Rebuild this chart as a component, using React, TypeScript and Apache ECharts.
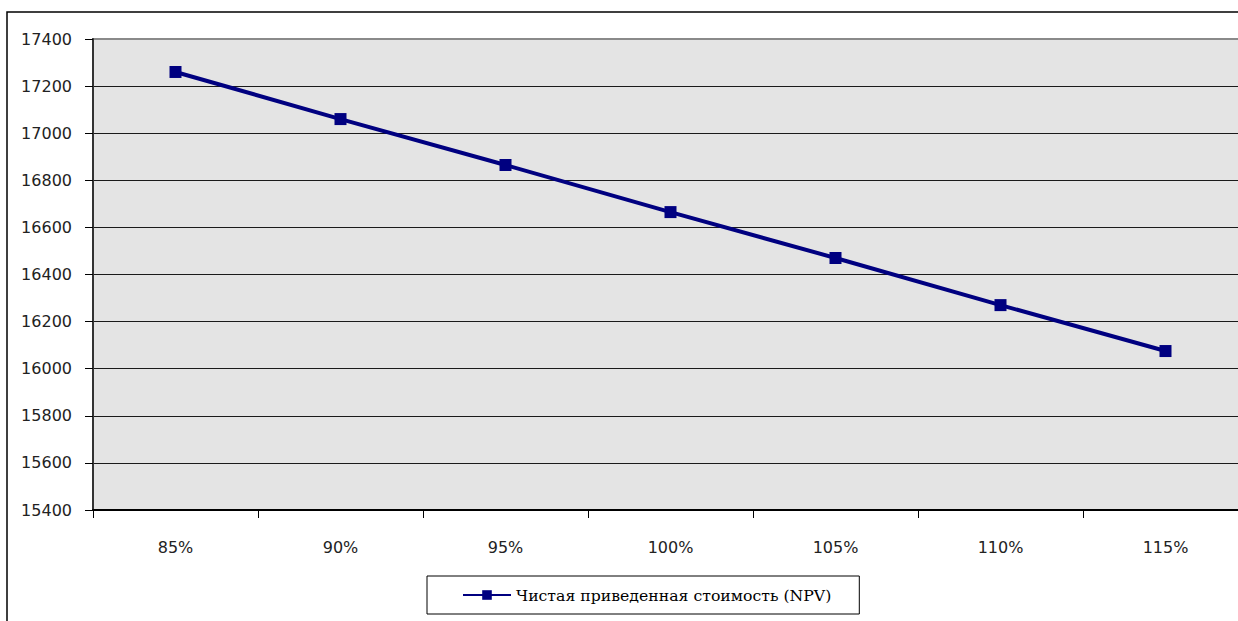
import React, { useEffect, useRef } from "react";
import * as echarts from "echarts";

const categories = ["85%", "90%", "95%", "100%", "105%", "110%", "115%"];
const npvValues = [17260, 17060, 16865, 16665, 16470, 16270, 16075];
const seriesName = "Чистая приведенная стоимость (NPV)";
const yMin = 15400;
const yMax = 17400;
const yStep = 200;

export default function App() {
  const ref = useRef<HTMLDivElement>(null);

  useEffect(() => {
    document.body.style.margin = "0";
    document.body.style.overflow = "hidden";
    const chart = echarts.init(ref.current!, undefined, { renderer: "svg" });
    chart.setOption({
      animation: false,
      backgroundColor: "#ffffff",
      grid: {
        left: 93,
        top: 39,
        width: 1155,
        height: 471,
        show: true,
        backgroundColor: "#e4e4e4",
        borderColor: "#8a8a8a",
        borderWidth: 2,
      },
      graphic: [
        {
          type: "rect",
          shape: { x: 7, y: 12, width: 1300, height: 700 },
          style: { fill: "none", stroke: "#000", lineWidth: 1.5 },
          z: -1,
        },
      ],
      xAxis: {
        type: "category",
        data: categories,
        boundaryGap: true,
        axisLine: { lineStyle: { color: "#000", width: 2 } },
        axisTick: { show: true, length: 8, lineStyle: { color: "#000", width: 1 } },
        axisLabel: {
          margin: 29,
          color: "#222",
          fontFamily: "DejaVu Sans",
          fontSize: 16,
        },
        splitLine: { show: false },
      },
      yAxis: {
        type: "value",
        min: yMin,
        max: yMax,
        interval: yStep,
        axisLine: { show: true, lineStyle: { color: "#333", width: 2 } },
        axisTick: { show: true, length: 8, lineStyle: { color: "#000", width: 1 } },
        axisLabel: {
          margin: 21,
          color: "#222",
          fontFamily: "DejaVu Sans",
          fontSize: 16,
          formatter: (v: number) => String(v),
        },
        splitLine: {
          show: true,
          showMaxLine: false,
          lineStyle: { color: "#1a1a1a", width: 1 },
        },
      },
      legend: {
        left: 427,
        top: 576,
        orient: "horizontal",
        padding: [11, 28, 11, 35],
        borderColor: "#000",
        borderWidth: 1,
        itemWidth: 48,
        itemHeight: 12,
        itemGap: 6,
        textStyle: { fontFamily: "DejaVu Serif", fontSize: 15.7, color: "#000" },
        data: [seriesName],
      },
      series: [
        {
          name: seriesName,
          type: "line",
          data: npvValues,
          symbol: "rect",
          symbolSize: 12,
          lineStyle: { color: "#000080", width: 4 },
          itemStyle: { color: "#000080" },
        },
      ],
    });
    return () => chart.dispose();
  }, []);

  return (
    <div style={{ width: 1238, height: 621, overflow: "hidden", position: "relative" }}>
      <div ref={ref} style={{ width: 1280, height: 640, position: "absolute", left: 0, top: 0 }} />
    </div>
  );
}
